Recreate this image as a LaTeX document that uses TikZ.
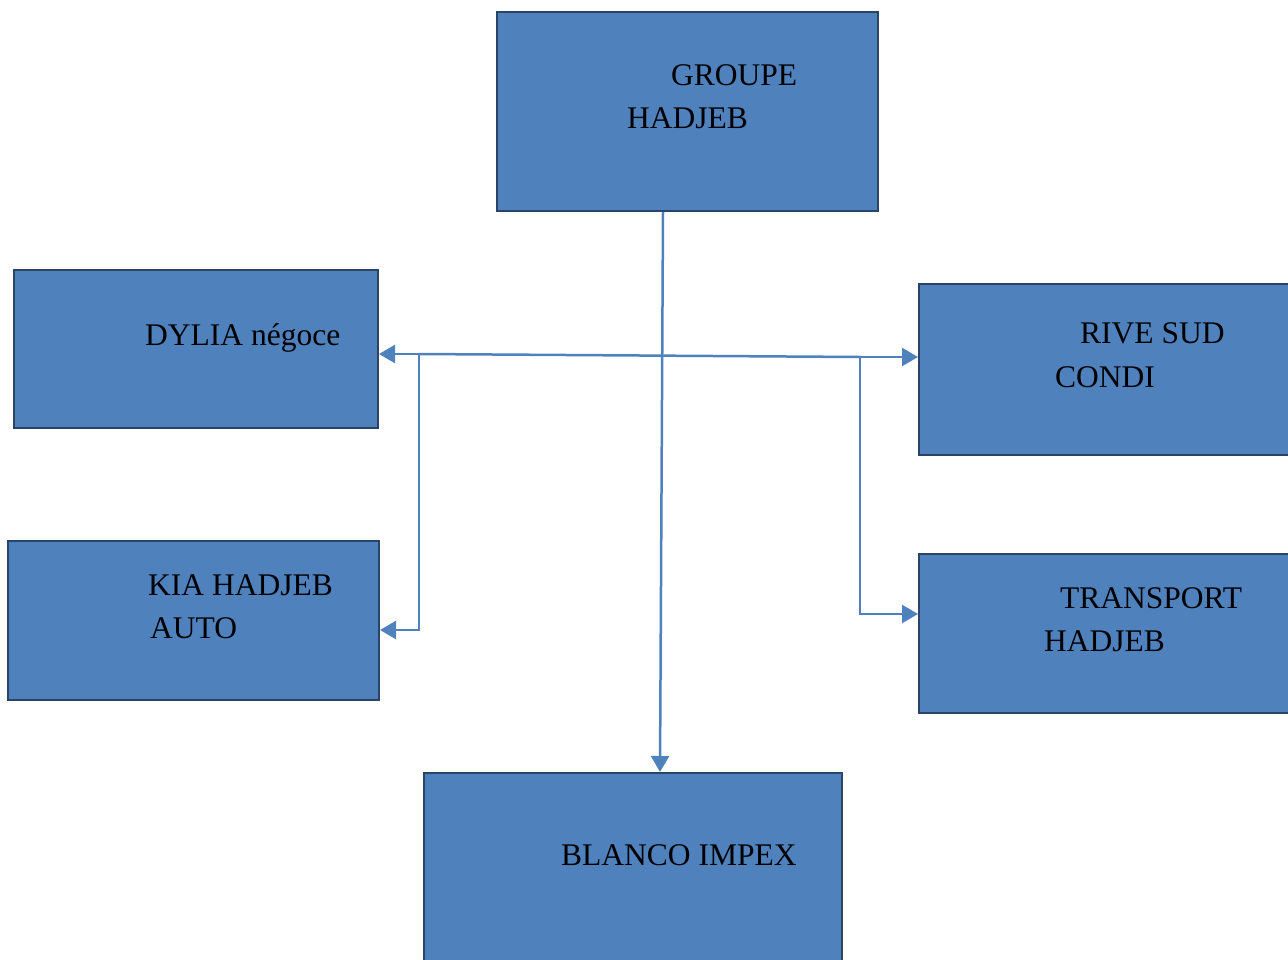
\documentclass[tikz,border=0pt]{standalone}
\usepackage{fontspec}
\setmainfont{Liberation Serif}
\usetikzlibrary{arrows.meta}
\definecolor{boxfill}{HTML}{4F81BD}
\definecolor{boxline}{HTML}{2A4468}
\definecolor{conn}{HTML}{4F81BD}
\tikzset{
  orgbox/.style={draw=boxline, fill=boxfill, line width=2.5pt, rectangle, inner sep=0pt},
  lbl/.style={anchor=base west, inner sep=0pt, font=\fontsize{31.5}{38}\selectfont, text=black},
  link/.style={draw=conn, line width=2.5pt},
  arr/.style={link, -{Triangle[length=16pt,width=18pt]}},
}
\begin{document}
\begin{tikzpicture}[x=1pt,y=-1pt]
\useasboundingbox (0,0) rectangle (1288,960);
\clip (0,0) rectangle (1288,960);
% boxes
\path[orgbox] (497,12) rectangle (878,211);
\node (groupe) at (687.5,111.5) [minimum width=381pt, minimum height=199pt] {};
\path[orgbox] (14,270) rectangle (378,428);
\node (dylia) at (196,349) [minimum width=364pt, minimum height=158pt] {};
\path[orgbox] (919,284) rectangle (1300,455);
\node (rive) at (1109.5,369.5) [minimum width=381pt, minimum height=171pt] {};
\path[orgbox] (8,541) rectangle (379,700);
\node (kia) at (193.5,620.5) [minimum width=371pt, minimum height=159pt] {};
\path[orgbox] (919,554) rectangle (1300,713);
\node (transport) at (1109.5,633.5) [minimum width=381pt, minimum height=159pt] {};
\path[orgbox] (424,773) rectangle (842,980);
\node (blanco) at (633,876.5) [minimum width=418pt, minimum height=207pt] {};
% texts
\node[lbl] (t1) at (671,86) {GROUPE};
\node[lbl] (t2) at (627,129) {HADJEB};
\node[lbl] (t3) at (145,345) {DYLIA négoce};
\node[lbl] (t4) at (1080,343) {RIVE SUD};
\node[lbl] (t5) at (1055,387) {CONDI};
\node[lbl] (t6) at (148,595) {KIA HADJEB};
\node[lbl] (t7) at (150,638) {AUTO};
\node[lbl] (t8) at (1060,608) {TRANSPORT};
\node[lbl] (t9) at (1044,651) {HADJEB};
\node[lbl] (t10) at (561,865) {BLANCO IMPEX};
% connectors
\coordinate (gtop) at (663,212);
\coordinate (bbot) at (660,772);
\coordinate (lend) at (379,354);
\coordinate (rend) at (918,357);
\coordinate (lsplit) at (419,354);
\coordinate (rsplit) at (860,357);
\coordinate (kend) at (380,630);
\coordinate (tend) at (918,614);
\draw[arr] (gtop) -- (bbot);
\draw[arr] (rsplit) -- (rend);
\draw[arr] (lsplit) -- (lend);
\draw[link] (lsplit) -- (rsplit);
\draw[arr] (lsplit) |- (kend);
\draw[arr] (rsplit) |- (tend);
\end{tikzpicture}
\end{document}
